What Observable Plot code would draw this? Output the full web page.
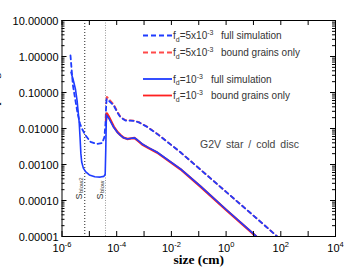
<!DOCTYPE html>
<html><head><meta charset="utf-8">
<script src="https://cdn.jsdelivr.net/npm/d3@7"></script>
<script src="https://cdn.jsdelivr.net/npm/@observablehq/plot@0.6"></script>
<style>
html,body{margin:0;padding:0;background:#fff;}
#wrap{position:relative;width:354px;height:275px;overflow:hidden;background:#fff;}
#ov{position:absolute;left:0;top:0;pointer-events:none;}
</style></head><body><div id="wrap"></div>
<script>
// ---- data ----
// f_d = 5x10^-3, full simulation (blue dashed)
const sizeFull5 = [2.04e-6,2.51e-6,3.09e-6,3.72e-6,4.57e-6,5.50e-6,7.24e-6,1.10e-5,1.91e-5,2.95e-5,3.55e-5,3.89e-5,4.07e-5,4.27e-5,5.01e-5,7.76e-5,1.07e-4,1.38e-4,2.09e-4,3.16e-4,4.47e-4,6.46e-4,1.32e-3,3.02e-3,0.0214,0.115,1,8.13,64.6,100];
const valFull5  = [1.07,0.158,0.0603,0.0263,0.0135,0.00955,0.00646,0.00427,0.00372,0.00398,0.00575,0.0138,0.0355,0.0661,0.0603,0.0437,0.0275,0.0204,0.0166,0.0166,0.0162,0.0148,0.0110,0.00708,0.00219,7.24e-4,1.74e-4,4.37e-5,1.10e-5,8.13e-6];
// f_d = 5x10^-3, bound grains only (red dashed)
const sizeBound5 = [4.07e-5,4.37e-5,5.01e-5,7.76e-5,1.07e-4,1.38e-4,2.09e-4,3.16e-4,4.47e-4,6.46e-4,1.32e-3,3.02e-3,0.0214,0.115,1,8.13,64.6,100];
const valBound5  = [0.0501,0.0759,0.0676,0.0468,0.0288,0.0209,0.0170,0.0168,0.0164,0.0150,0.0111,0.00716,0.00219,7.24e-4,1.74e-4,4.37e-5,1.10e-5,8.13e-6];
// f_d = 10^-3, full simulation (blue solid)
const sizeFull1 = [2.14e-6,2.63e-6,3.09e-6,3.55e-6,3.89e-6,4.27e-6,4.57e-6,4.90e-6,5.25e-6,6.03e-6,7.24e-6,1.00e-5,1.58e-5,2.51e-5,3.39e-5,3.80e-5,3.98e-5,4.17e-5,4.27e-5,5.01e-5,7.76e-5,1.07e-4,1.38e-4,1.78e-4,2.45e-4,3.47e-4,4.47e-4,5.75e-4,8.51e-4,1.45e-3,3.02e-3,0.0214,0.115,1,11.7,20];
const valFull1  = [0.363,0.209,0.126,0.0603,0.0302,0.0141,0.00562,0.00200,0.00117,7.94e-4,6.31e-4,5.13e-4,4.57e-4,4.47e-4,4.68e-4,5.37e-4,0.00251,0.0175,0.0235,0.0200,0.0108,0.00776,0.00646,0.00550,0.00513,0.00537,0.00550,0.00479,0.00372,0.00295,0.00219,7.59e-4,2.51e-4,5.62e-5,1.07e-5,7.41e-6];
// f_d = 10^-3, bound grains only (red solid)
const sizeBound1 = [4.07e-5,4.37e-5,5.01e-5,7.76e-5,1.07e-4,1.38e-4,1.78e-4,2.45e-4,3.47e-4,4.47e-4,5.75e-4,8.51e-4,1.45e-3,3.02e-3,0.0214,0.115,1,11.7,20];
const valBound1  = [0.0170,0.0262,0.0222,0.0113,0.00794,0.00653,0.00556,0.00513,0.00531,0.00543,0.00468,0.00363,0.00288,0.00214,7.41e-4,2.45e-4,5.50e-5,1.05e-5,7.24e-6];

const sBlow2 = 6.8e-6, sBlow = 3.9e-5;
const sLines = [{s: sBlow2, sub: "blow2"}, {s: sBlow, sub: "blow"}];

const yMajor = [1e-5,1e-4,1e-3,1e-2,1e-1,1,10];
const xTicks = [1e-6,1e-5,1e-4,1e-3,1e-2,1e-1,1,10,100,1000,1e4];
const xLabelTicks = [1e-6,1e-4,1e-2,1,100,1e4];

const xTitle = "size (cm)";
const yTitle = "Geometrical cross section per log size bin";
const note = "G2V star / cold disc";

const BLUE = "#1f3cff", RED = "#ff2020", RED_D = "#ff4a4a";
const legendEntries = [
  {fd: "5x10", exp: "-3", text: "full simulation",   color: BLUE,  dash: "5,3", tx: 221, y: 35.5},
  {fd: "5x10", exp: "-3", text: "bound grains only", color: RED_D, dash: "5,3", tx: 221, y: 52.5},
  {fd: "10",   exp: "-3", text: "full simulation",   color: BLUE,  dash: null,  tx: 211, y: 79},
  {fd: "10",   exp: "-3", text: "bound grains only", color: RED,   dash: null,  tx: 211, y: 95.5}
];

// ---- layout ----
const W = 354, H = 275, ML = 61.5, MR = 19, MT = 20, MB = 39;
const FW = W - ML - MR, FH = H - MT - MB;
const yMinor = d3.scaleLog().domain([1e-5, 10]).ticks()
  .filter(t => !yMajor.some(m => Math.abs(t / m - 1) < 1e-9));
const rows = (s, v) => s.map((x, i) => ({s: x, v: v[i]}));

const plot = Plot.plot({
  width: W, height: H, marginLeft: ML, marginRight: MR, marginTop: MT, marginBottom: MB,
  x: {type: "log", domain: [1e-6, 1e4]},
  y: {type: "log", domain: [1e-5, 10]},
  style: {fontFamily: "'Liberation Sans', Arial, sans-serif", fontSize: "11px", background: "#fff", color: "#000", overflow: "visible"},
  marks: [
    Plot.ruleX([sBlow2], {x: d => d, stroke: "#222", strokeDasharray: "1,2"}),
    Plot.ruleX([sBlow], {x: d => d, stroke: "#9a9a9a", strokeDasharray: "1,1.5"}),
    Plot.text(sLines, {x: "s", frameAnchor: "bottom", text: () => "S", rotate: -90, lineAnchor: "bottom", textAnchor: "start", dx: -2.3, dy: -37, fontSize: 9, fill: "#333"}),
    Plot.text(sLines, {x: "s", frameAnchor: "bottom", text: "sub", rotate: -90, lineAnchor: "bottom", textAnchor: "start", dx: -1.6, dy: -43.5, fontSize: 6, fill: "#333"}),
    Plot.line(rows(sizeBound5, valBound5), {x: "s", y: "v", stroke: RED_D, strokeWidth: 1.8, strokeDasharray: "4,3.5", strokeDashoffset: 3.75, clip: true}),
    Plot.line(rows(sizeFull5, valFull5), {x: "s", y: "v", stroke: BLUE, strokeWidth: 1.8, strokeDasharray: "4,3.5", clip: true}),
    Plot.line(rows(sizeBound1, valBound1), {x: "s", y: "v", stroke: RED, strokeWidth: 2.4, clip: true}),
    Plot.line(rows(sizeFull1, valFull1), {x: "s", y: "v", stroke: BLUE, strokeWidth: 1.6, clip: true}),
    // inward ticks on all four sides
    Plot.tickY(yMajor, {y: d => d, insetRight: FW - 5, stroke: "#000"}),
    Plot.tickY(yMajor, {y: d => d, insetLeft: FW - 5, stroke: "#000"}),
    Plot.tickY(yMinor, {y: d => d, insetRight: FW - 3, stroke: "#000"}),
    Plot.tickY(yMinor, {y: d => d, insetLeft: FW - 3, stroke: "#000"}),
    Plot.tickX(xTicks, {x: d => d, insetTop: FH - 5, stroke: "#000"}),
    Plot.tickX(xTicks, {x: d => d, insetBottom: FH - 5, stroke: "#000"}),
    Plot.axisY(yMajor, {anchor: "left", tickSize: 0, tickPadding: 3.5, tickFormat: d3.format(".5f"), label: null, fontSize: 11, dy: 1}),
    Plot.axisX(xLabelTicks, {anchor: "bottom", tickSize: 0, tickPadding: 7.5, tickFormat: d => "10^" + Math.round(Math.log10(d)), label: null, fontSize: 11}),
    Plot.text([xTitle], {frameAnchor: "bottom", text: d => d, dy: 27, lineAnchor: "bottom", textAnchor: "middle", fontWeight: "bold", fontFamily: "'Liberation Serif', serif", fontSize: 13.5}),
    Plot.text([yTitle], {frameAnchor: "left", text: d => d, rotate: -90, lineAnchor: "bottom", textAnchor: "middle", dx: -63, dy: 3, fontWeight: "bold", fontFamily: "'Liberation Serif', serif", fontSize: 11}),
    Plot.frame({stroke: "#000", strokeWidth: 1})
  ]
});

// superscript exponents on the x tick labels
const NS = "http://www.w3.org/2000/svg";
plot.querySelectorAll("text").forEach(t => {
  if (t.textContent.includes("^")) {
    const [b, e] = t.textContent.split("^");
    t.textContent = "";
    const a = document.createElementNS(NS, "tspan"); a.textContent = b;
    const c = document.createElementNS(NS, "tspan"); c.textContent = e;
    c.setAttribute("dy", "-5"); c.setAttribute("font-size", "7.5");
    t.append(a, c);
  }
});

const wrap = document.getElementById("wrap");
wrap.appendChild(plot);

// overlay: legend + annotation
const ov = d3.select(wrap).append("svg").attr("id", "ov").attr("width", W).attr("height", H)
  .style("font-family", "'Liberation Sans', Arial, sans-serif");
legendEntries.forEach(e => {
  const ln = ov.append("line").attr("x1", 143).attr("x2", 172).attr("y1", e.y).attr("y2", e.y)
    .attr("stroke", e.color).attr("stroke-width", 1.8);
  if (e.dash) ln.attr("stroke-dasharray", e.dash);
  const t = ov.append("text").attr("x", 173).attr("y", e.y + 3.5).attr("font-size", 10).attr("fill", "#333");
  t.append("tspan").text("f");
  t.append("tspan").attr("font-size", 7).attr("dy", 2.5).text("d");
  t.append("tspan").attr("dy", -2.5).text("=" + e.fd);
  t.append("tspan").attr("font-size", 7).attr("dy", -4).text(e.exp);
  ov.append("text").attr("x", e.tx).attr("y", e.y + 3.5).attr("font-size", 10).attr("fill", "#333").text(e.text);
});
ov.append("text").attr("x", 200).attr("y", 147.5).attr("font-size", 10.5).attr("fill", "#444")
  .attr("word-spacing", 2).text(note);
</script></body></html>
